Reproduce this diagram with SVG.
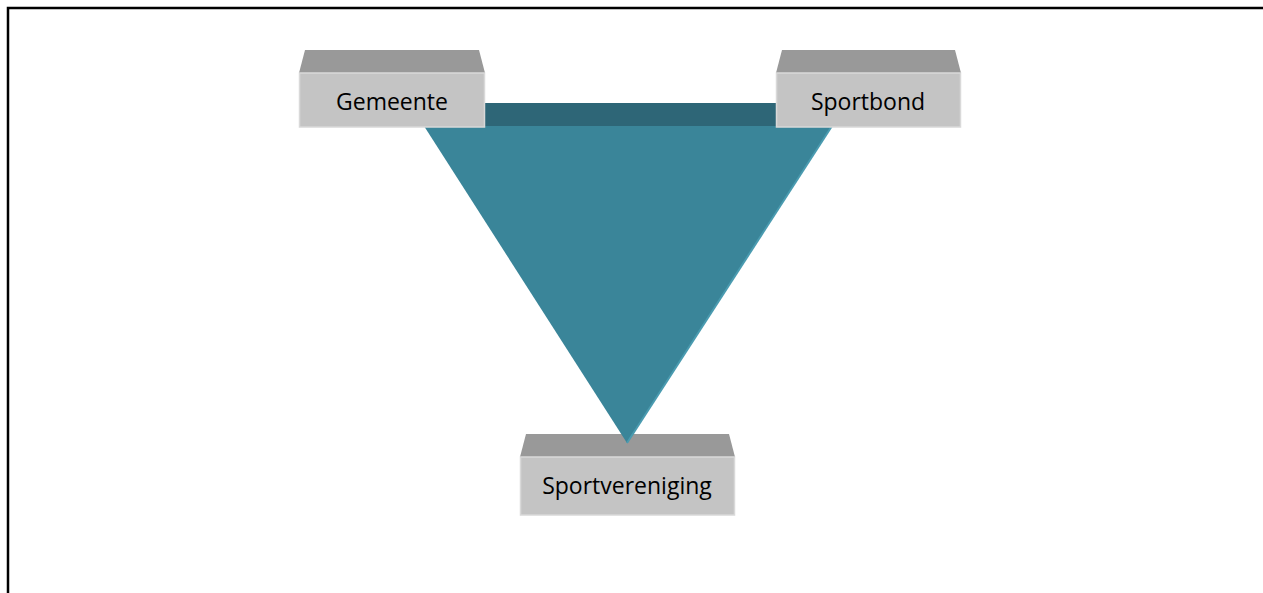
<svg xmlns="http://www.w3.org/2000/svg" width="1263" height="593" viewBox="0 0 1263 593">
<style>
.top{fill:#999999}
.front{fill:#C4C4C4;stroke:#D9D9D9;stroke-width:1.5}
.lbl{font-family:"Open Sans","Noto Sans","Liberation Sans",sans-serif;font-size:23px;fill:#000;text-anchor:middle}
</style>
<rect x="0" y="0" width="1263" height="593" fill="#fff"/>
<path d="M8 593 V8 H1263" fill="none" stroke="#000" stroke-width="2.5"/>
<g id="sportvereniging">
<polygon class="top" points="526,434 729,434 735,457 520,457"/>
<rect class="front" x="520.5" y="457" width="214" height="58"/>
<text class="lbl" x="627" y="494">Sportvereniging</text>
</g>
<g id="triangle">
<rect x="424" y="103" width="408" height="24" fill="#2E6677"/>
<polygon points="424,126 832,126 627,443" fill="#3A8599"/>
<line x1="832" y1="126" x2="627" y2="443" stroke="#4A9BB0" stroke-width="2"/>
</g>
<g id="connectors"></g>
<g id="gemeente">
<polygon class="top" points="305,50 479,50 485,73 299,73"/>
<rect class="front" x="299.5" y="73" width="185" height="54"/>
<text class="lbl" x="392" y="110">Gemeente</text>
</g>
<g id="sportbond">
<polygon class="top" points="782,50 955,50 961,73 776,73"/>
<rect class="front" x="776.5" y="73" width="184" height="54"/>
<text class="lbl" x="868" y="110">Sportbond</text>
</g>
</svg>
